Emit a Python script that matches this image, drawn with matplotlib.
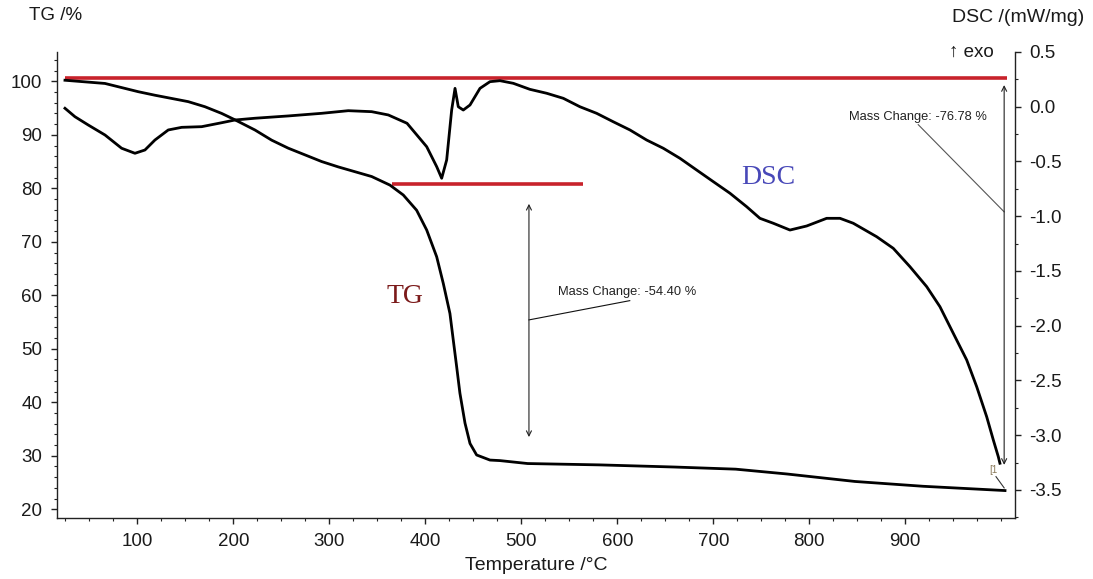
import matplotlib
matplotlib.use("Agg")
import matplotlib.pyplot as plt
from matplotlib.ticker import MultipleLocator, FixedLocator

# ---------------- data ----------------
tg_temp = [24.7, 66.4, 101, 118.4, 153.1, 170.5, 187.9, 201.8, 222.6, 240, 257.3,
           292.1, 309.4, 326.8, 344.2, 363.2, 377.1, 391, 401.5, 411.9, 418.8,
           425.7, 429.2, 432.7, 436.1, 441.4, 446.6, 453.5, 467.4, 477.8, 506.7,
           581.3, 659.4, 723.3, 776.6, 847.6, 918.6, 1003.9]
tg_mass = [100.2, 99.6, 98.06, 97.4, 96.2, 95.25, 94.0, 92.8, 90.9, 89.0, 87.5,
           85.0, 84.0, 83.1, 82.2, 80.6, 78.75, 75.9, 72.2, 67.2, 62.2,
           56.6, 51.6, 46.65, 41.7, 36.1, 32.3, 30.15, 29.2, 29.1, 28.55,
           28.3, 27.9, 27.5, 26.6, 25.2, 24.3, 23.5]

dsc_temp = [24.7, 35.1, 49, 66.4, 83.7, 97.6, 108, 118.4, 132.3, 146.3, 167.1,
            187.9, 201.8, 222.6, 257.3, 292.1, 319.8, 344.2, 361.5, 381, 401.5,
            411.9, 417.1, 422.3, 427.5, 431, 434.4, 439.6, 446.6, 457, 467.4,
            477.8, 491.7, 509, 526.5, 543.8, 561.1, 578.5, 595.8, 613.2, 630.6,
            647.9, 665.3, 682.7, 700, 717.4, 734.8, 748.6, 762.5, 779.9, 797.3,
            818.1, 832, 845.8, 870.2, 887.5, 904.9, 922.3, 936.1, 950, 964,
            974.4, 984.8, 991.7, 996.9, 998.6]
dsc_signal = [-0.014, -0.091, -0.167, -0.258, -0.379, -0.425, -0.395, -0.304, -0.212, -0.188, -0.182,
              -0.146, -0.121, -0.105, -0.084, -0.06, -0.036, -0.045, -0.075, -0.151, -0.365,
              -0.547, -0.653, -0.486, -0.03, 0.168, 0.0, -0.03, 0.016, 0.168, 0.229,
              0.238, 0.214, 0.159, 0.123, 0.077, 0.0, -0.06, -0.137, -0.212, -0.304,
              -0.379, -0.471, -0.578, -0.684, -0.79, -0.913, -1.019, -1.064, -1.126, -1.089,
              -1.019, -1.019, -1.064, -1.187, -1.293, -1.461, -1.643, -1.826, -2.069, -2.313,
              -2.557, -2.831, -3.043, -3.196, -3.256]

x_ticks = [100, 200, 300, 400, 500, 600, 700, 800, 900]
tg_ticks = [20, 30, 40, 50, 60, 70, 80, 90, 100]
dsc_ticks = [-3.5, -3.0, -2.5, -2.0, -1.5, -1.0, -0.5, 0.0, 0.5]

# reference levels / mass-change annotations (TG axis units)
ref_high = 100.6
ref_high_span = [24.7, 1006]
ref_low = 80.75
ref_low_span = [365, 564]
step1_temp = 508
step1_range = [77.1, 33.5]
step1_label = "Mass Change: -54.40 %"
step2_temp = 1003
step2_range = [99.3, 28.3]
step2_label = "Mass Change: -76.78 %"

# ---------------- figure ----------------
plt.rcParams['font.family'] = ['Liberation Sans', 'DejaVu Sans']
fig = plt.figure(figsize=(10.93, 5.79), dpi=100)
ax = fig.add_axes([0.05215, 0.10535, 0.87649, 0.80484])
ax2 = ax.twinx()

ax.set_xlim(16.4, 1014.3)
ax.set_ylim(18.37, 105.48)
ax2.set_ylim(-3.756, 0.5)

red = '#C8222B'
ax.plot(ref_high_span, [ref_high, ref_high], color=red, lw=2.6, solid_capstyle='butt', zorder=2)
ax.plot(ref_low_span, [ref_low, ref_low], color=red, lw=2.6, solid_capstyle='butt', zorder=2)

ax.plot(tg_temp, tg_mass, color='black', lw=2.0, zorder=3)
ax2.plot(dsc_temp, dsc_signal, color='black', lw=2.0, zorder=3)

# mass change arrows
arrow_kw = dict(arrowstyle='<->', lw=0.8, color='#222222', mutation_scale=9,
                shrinkA=0, shrinkB=0)
ax.annotate('', xy=(step1_temp, step1_range[1]), xytext=(step1_temp, step1_range[0]),
            arrowprops=arrow_kw)
ax.annotate('', xy=(step2_temp, step2_range[1]), xytext=(step2_temp, step2_range[0]),
            arrowprops=arrow_kw)
ax.plot([step1_temp, 613], [55.4, 59.0], color='#111111', lw=0.8)
ax.text(538.5, 60.6, step1_label, fontsize=9.3, va='center', ha='left', color='#222222')
ax.plot([913.5, step2_temp], [91.9, 75.6], color='#555555', lw=0.8)
ax.text(841.7, 93.4, step2_label, fontsize=9.3, va='center', ha='left', color='#222222')

# small marker near the end
ax.text(991.4, 27.3, '[1', fontsize=7, color='#8a7a5a', ha='center', va='center')
ax.plot([994.5, 1003], [26.1, 24.0], color='#333333', lw=0.8)

# curve labels
ax.text(378.9, 59.7, 'TG', fontsize=20, color='#7B1A1A',
        family='Liberation Serif', ha='center', va='center')
ax.text(757, 82.1, 'DSC', fontsize=20, color='#4848B8',
        family='Liberation Serif', ha='center', va='center')

# axes styling
for a in (ax, ax2):
    a.spines['top'].set_visible(False)
    for s in ('left', 'right', 'bottom'):
        a.spines[s].set_linewidth(1.0)
        a.spines[s].set_color('#222222')
ax.spines['right'].set_visible(False)
ax2.spines['left'].set_visible(False)
ax2.spines['bottom'].set_visible(False)

ax.xaxis.set_major_locator(FixedLocator(x_ticks))
ax.xaxis.set_minor_locator(MultipleLocator(25))
ax.yaxis.set_major_locator(FixedLocator(tg_ticks))
ax.yaxis.set_minor_locator(MultipleLocator(2))
ax2.yaxis.set_major_locator(FixedLocator(dsc_ticks))
ax2.yaxis.set_minor_locator(MultipleLocator(0.25))
ax.set_xticklabels([str(t) for t in x_ticks])
ax.set_yticklabels([str(t) for t in tg_ticks])
ax2.set_yticklabels(['%.1f' % t for t in dsc_ticks])

for a in (ax, ax2):
    a.tick_params(which='major', length=4.5, width=1.0, color='#222222',
                  labelsize=13.5, labelcolor='#1a1a1a', direction='out')
    a.tick_params(which='minor', length=2.5, width=0.8, color='#222222', direction='out')
ax.tick_params(axis='y', pad=6)
ax.tick_params(axis='x', pad=6)
ax2.tick_params(axis='y', pad=6)

ax.set_xlabel('Temperature /°C', fontsize=14, labelpad=5, color='#1a1a1a')

fig.text(56 / 1093, 1 - 16 / 579, 'TG /%', fontsize=13.5, ha='center', va='center', color='#1a1a1a')
fig.text(1018 / 1093, 1 - 18 / 579, 'DSC /(mW/mg)', fontsize=14, ha='center', va='center', color='#1a1a1a')
fig.text(971 / 1093, 1 - 52 / 579, '↑ exo', fontsize=13.5, ha='center', va='center', color='#1a1a1a')

fig.savefig('out.png', dpi=100)
